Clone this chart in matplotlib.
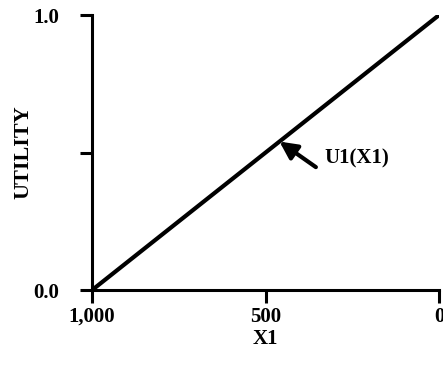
import matplotlib.pyplot as plt

# data
x1 = [1000, 500, 0]
utility = [0.0, 0.5, 1.0]
x_ticks = [1000, 500, 0]
x_labels = ["1,000", "500", "0"]
y_ticks = [0.0, 0.5, 1.0]
y_labels = ["0.0", "", "1.0"]

plt.rcParams['font.family'] = ['Liberation Serif', 'DejaVu Serif']
plt.rcParams['font.weight'] = 'bold'

fig = plt.figure(figsize=(4.43, 3.73), dpi=100)
ax = fig.add_axes([0.208, 0.2225, 0.783, 0.737])

ax.plot(x1, utility, color='black', lw=3, solid_capstyle='butt')
ax.set_xlim(1000, 0)
ax.set_ylim(0, 1)

for s in ['top', 'right']:
    ax.spines[s].set_visible(False)
for s in ['left', 'bottom']:
    ax.spines[s].set_linewidth(2.2)

ax.set_xticks(x_ticks)
ax.set_xticklabels(x_labels)
ax.set_yticks(y_ticks)
ax.set_yticklabels(y_labels)
ax.tick_params(direction='out', length=9, width=2.2, labelsize=15)
ax.tick_params(axis='y', pad=15)
ax.tick_params(axis='x', pad=3)

ax.set_xlabel("X1", fontsize=15, fontweight='bold', labelpad=2)
ax.set_ylabel("UTILITY", fontsize=16, fontweight='bold', labelpad=0)

# arrow pointing at the line
ax.annotate("", xy=(460, 0.54), xytext=(355, 0.447),
            arrowprops=dict(arrowstyle='-|>', color='black', lw=3,
                            mutation_scale=26, shrinkA=0, shrinkB=0))
ax.text(329, 0.48, "U1(X1)", fontsize=15, fontweight='bold',
        va='center', ha='left')

fig.savefig("out.png", dpi=100)
